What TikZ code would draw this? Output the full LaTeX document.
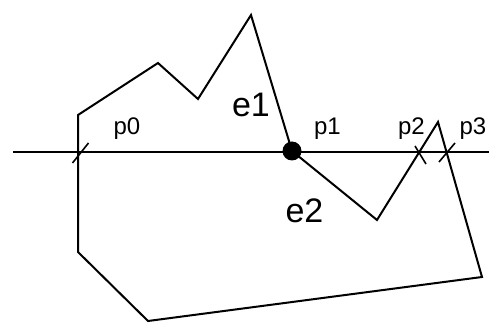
\documentclass[tikz,border=0pt]{standalone}
\usepackage{fontspec}
\setmainfont{Liberation Sans}
\usetikzlibrary{positioning}

\begin{document}
\begin{tikzpicture}[
    x=1pt,y=-1pt,
    edge/.style={line width=2pt},
    ray/.style={line width=2.8pt},
    tick/.style={line width=1.6pt},
    plbl/.style={font=\fontsize{24}{24}\selectfont,inner sep=0pt,anchor=base},
    elbl/.style={font=\fontsize{34}{34}\selectfont,inner sep=0pt,anchor=base},
    hit/.style={circle,fill=black,inner sep=0pt,minimum size=19pt}
  ]
    \useasboundingbox (0,0) rectangle (499,329);
    % polygon corners
    \coordinate (a) at (78,115); \coordinate (b) at (158,63); \coordinate (c) at (198,99);
    \coordinate (d) at (251,15); \coordinate (e) at (292,151); \coordinate (f) at (377,220);
    \coordinate (g) at (438,122); \coordinate (h) at (482,277); \coordinate (i) at (148,321);
    \coordinate (j) at (78,252);
    \draw[edge] (a)--(b)--(c)--(d)--(e)--(f)--(g)--(h)--(i)--(j)--cycle;
    % the ray
    \coordinate (r0) at (13,152); \coordinate (r1) at (489,152);
    \draw[ray] (r0)--(r1);
    % crossings
    \coordinate (x0) at (80.5,153); \coordinate (x2) at (420.5,155); \coordinate (x3) at (447,152.5);
    \draw[tick] (x0) ++(-8,10) -- ++(16,-20);
    \draw[tick] (x2) ++(-5.5,-9) -- ++(11,18);
    \draw[tick] (x3) ++(-8,9.5) -- ++(16,-19);
    \node[hit] (v) at (e) {};
    \node[plbl] (p0) at (127,135) {p0}; \node[plbl] (p1) at (327.5,135) {p1};
    \node[plbl] (p2) at (411.5,135) {p2}; \node[plbl] (p3) at (473,135) {p3};
    \node[elbl] (e1) at (251,116.7) {e1}; \node[elbl] (e2) at (304.5,222.3) {e2};
\end{tikzpicture}
\end{document}
